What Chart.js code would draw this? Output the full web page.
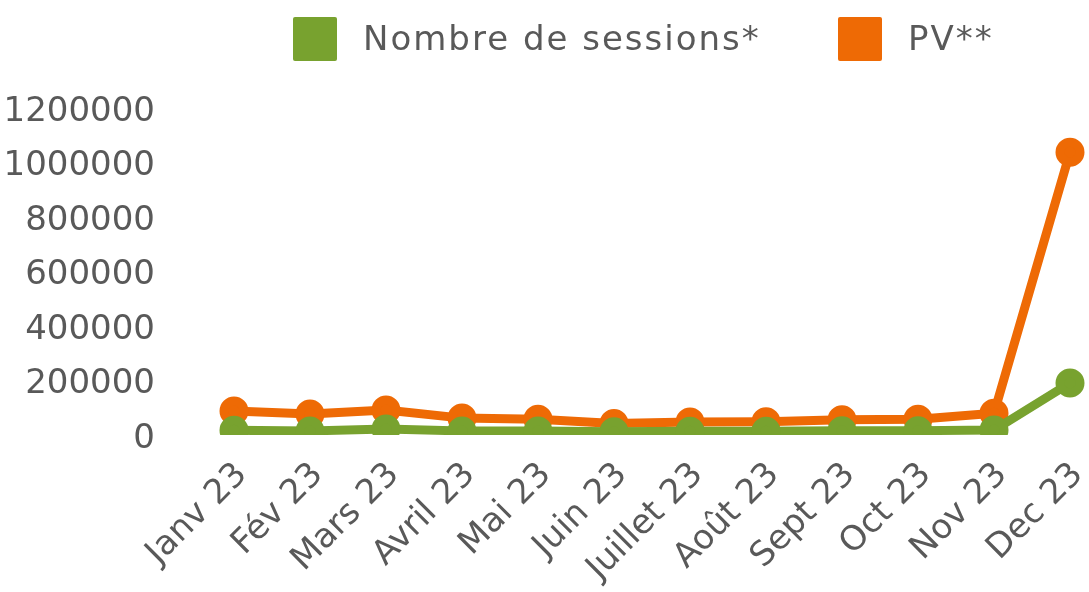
<!DOCTYPE html>
<html>
<head>
<meta charset="utf-8">
<script src="https://cdn.jsdelivr.net/npm/chart.js@4"></script>
<style>
  html, body { margin: 0; padding: 0; background: #fff; }
  #wrap { width: 1089px; height: 592px; position: relative; }
</style>
</head>
<body>
<div id="wrap"><canvas id="chartSessions"></canvas></div>
<script>
const mois = ["Janv 23", "Fév 23", "Mars 23", "Avril 23", "Mai 23", "Juin 23",
              "Juillet 23", "Août 23", "Sept 23", "Oct 23", "Nov 23", "Dec 23"];
const sessions = [17000, 15000, 22000, 15000, 15000, 12000, 14000, 14000, 16000, 16000, 18000, 191000];
const pagesVues = [88000, 77000, 92000, 62000, 58000, 42000, 48000, 49000, 56000, 58000, 80000, 1038000];

const VERT = "#78a22f";
const ORANGE = "#ee6a05";
const GRIS = "#595959";
const POLICE = "DejaVu Sans";

document.addEventListener("DOMContentLoaded", () => {
    const ctx = document.getElementById("chartSessions");

    // légende dessinée à la main pour garder l'espacement de l'original
    const legendeManuelle = {
        id: 'legendeManuelle',
        afterDraw(chart) {
            const c = chart.ctx;
            const items = [
                { x: 293, texte: chart.data.datasets[0].label, couleur: VERT },
                { x: 838, texte: chart.data.datasets[1].label, couleur: ORANGE }
            ];
            c.save();
            c.font = `34px "${POLICE}"`;
            c.letterSpacing = '2px';
            c.textBaseline = 'middle';
            c.textAlign = 'left';
            items.forEach(it => {
                c.fillStyle = it.couleur;
                c.beginPath();
                c.roundRect(it.x, 17, 44, 44, 2);
                c.fill();
                c.fillStyle = GRIS;
                c.fillText(it.texte, it.x + 70, 41);
            });
            c.restore();
        }
    };

    new Chart(ctx, {
        type: 'line',
        data: {
            labels: mois,
            datasets: [
                {
                    label: 'Nombre de sessions*',
                    data: sessions,
                    borderColor: VERT,
                    backgroundColor: VERT,
                    borderWidth: 9,
                    pointRadius: 10,
                    pointHoverRadius: 10,
                    tension: 0
                },
                {
                    label: 'PV**',
                    data: pagesVues,
                    borderColor: ORANGE,
                    backgroundColor: ORANGE,
                    borderWidth: 9,
                    pointRadius: 10,
                    pointHoverRadius: 10,
                    tension: 0
                }
            ]
        },
        options: {
            responsive: true,
            maintainAspectRatio: false,
            animation: false,
            layout: { padding: { top: 108, right: 19, left: 0, bottom: 0 } },
            plugins: {
                legend: { display: false },
                tooltip: { enabled: false }
            },
            scales: {
                x: {
                    offset: false,
                    grid: { display: false },
                    border: { display: false },
                    afterFit: scale => {
                        scale.height = 157;
                        scale.paddingLeft = 0;
                        scale.paddingRight = 0;
                    },
                    ticks: {
                        color: GRIS,
                        font: { family: POLICE, size: 34 },
                        maxRotation: 45,
                        minRotation: 45,
                        autoSkip: false,
                        padding: 12,
                        labelOffset: 8
                    }
                },
                y: {
                    min: 0,
                    max: 1200000,
                    grid: { display: false },
                    border: { display: false },
                    afterFit: scale => { scale.width = 234; },
                    ticks: {
                        stepSize: 200000,
                        color: GRIS,
                        font: { family: POLICE, size: 34 },
                        padding: 71,
                        labelOffset: 4,
                        callback: v => String(v)
                    }
                }
            }
        },
        plugins: [legendeManuelle]
    });
});
</script>
</body>
</html>
